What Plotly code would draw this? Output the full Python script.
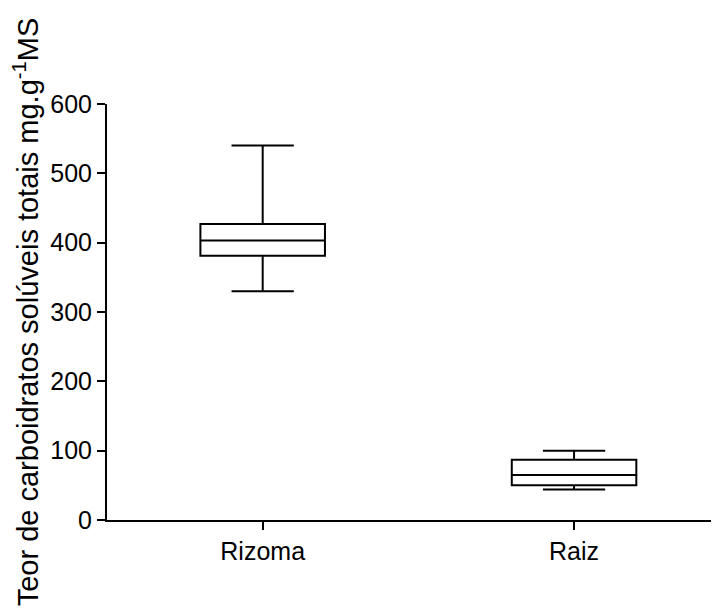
import plotly.graph_objects as go

categories = ["Rizoma", "Raiz"]
mins = [330, 44]
q1s = [381, 50]
medians = [403, 65]
q3s = [427, 87]
maxs = [540, 100]

y_ticks = [0, 100, 200, 300, 400, 500, 600]

FONT = "Arial, 'Liberation Sans', sans-serif"

fig = go.Figure()
fig.add_trace(go.Box(
    x=categories,
    lowerfence=mins,
    q1=q1s,
    median=medians,
    q3=q3s,
    upperfence=maxs,
    width=0.4,
    whiskerwidth=0.5,
    fillcolor="white",
    line=dict(color="black", width=2),
    boxpoints=False,
    showlegend=False,
    hoverinfo="skip",
))

fig.update_layout(
    width=711, height=601,
    margin=dict(l=99, r=0, t=96, b=89),
    paper_bgcolor="white", plot_bgcolor="white",
    font=dict(family=FONT, size=25, color="black"),
    showlegend=False,
)
fig.update_xaxes(
    type="category",
    range=[-0.5, 1.4655],
    showline=True, linecolor="black", linewidth=2,
    ticks="outside", ticklen=8, tickwidth=2, tickcolor="black",
    showgrid=False, zeroline=False,
    tickfont=dict(family=FONT, size=25, color="black"),
)
fig.update_yaxes(
    range=[0, 600],
    tickvals=y_ticks,
    ticktext=[str(v) for v in y_ticks],
    showline=True, linecolor="black", linewidth=2,
    ticks="outside", ticklen=8, tickwidth=2, tickcolor="black",
    showgrid=False, zeroline=False,
    tickfont=dict(family=FONT, size=25, color="black"),
    title=dict(text="Teor de carboidratos solúveis totais mg.g<sup>-1</sup>MS",
               font=dict(family=FONT, size=29, color="black"),
               standoff=16),
)

fig.write_html("out.html")
